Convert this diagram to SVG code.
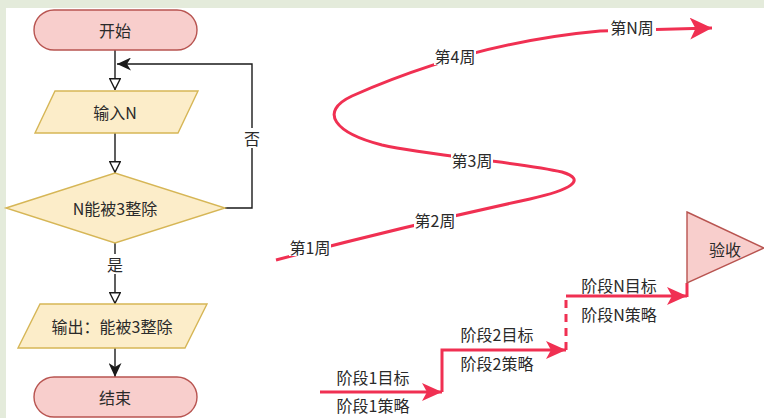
<svg xmlns="http://www.w3.org/2000/svg" width="764" height="418" viewBox="0 0 764 418">
<style>
text{font-family:"Noto Sans CJK SC","Liberation Sans",sans-serif;font-size:16px;fill:#2a2a2a;text-anchor:middle;dominant-baseline:central}
.term{fill:#f8cecc;stroke:#b85450;stroke-width:1.4}
.io{fill:#fcedc9;stroke:#d6b656;stroke-width:1.4}
.ln{fill:none;stroke:#1a1a1a;stroke-width:1.4}
.red{fill:none;stroke:#f03052;stroke-width:3}
.lbl{fill:#fff}
</style>
<defs>
<marker id="open" viewBox="0 0 12 12" refX="12" refY="6" markerWidth="12" markerHeight="12" markerUnits="userSpaceOnUse" orient="auto">
<path d="M0.7,0.7 L11.3,6 L0.7,11.3 Z" fill="#fff" stroke="#1a1a1a" stroke-width="1.4"/>
</marker>
<marker id="fill" viewBox="0 0 14 13" refX="14" refY="6.5" markerWidth="14" markerHeight="13" markerUnits="userSpaceOnUse" orient="auto">
<path d="M0,0 L14,6.5 L0,13 L4,6.5 Z" fill="#1a1a1a"/>
</marker>
<marker id="redA" viewBox="0 0 20 20" refX="20" refY="10" markerWidth="22" markerHeight="22" markerUnits="userSpaceOnUse" orient="auto">
<path d="M0,0 L20,10 L0,20 L5,10 Z" fill="#f03052"/>
</marker>
<marker id="redB" viewBox="0 0 20 18" refX="20" refY="9" markerWidth="20" markerHeight="18" markerUnits="userSpaceOnUse" orient="auto">
<path d="M0,0 L20,9 L0,18 L5,9 Z" fill="#f03052"/>
</marker>
</defs>
<rect x="0" y="0" width="764" height="418" fill="#e4ebdb"/>
<rect x="6" y="8" width="758" height="410" fill="#fff"/>

<g id="connectors">
<path class="ln" d="M115,50 V90" marker-end="url(#open)"/>
<path class="ln" d="M115,133 V173" marker-end="url(#open)"/>
<path class="ln" d="M225,208 H252 V64 H117" marker-end="url(#fill)"/>
<rect class="lbl" x="244" y="128" width="16" height="20"/>
<text x="252" y="138">否</text>
<path class="ln" d="M115,243 V304" marker-end="url(#open)"/>
<rect class="lbl" x="107" y="254" width="16" height="20"/>
<text x="115" y="264">是</text>
<path class="ln" d="M115,348 V377" marker-end="url(#fill)"/>

<path class="red" d="M276,260 C360,238 470,212 530,199 C570,190 588,180 562,172 C520,162 430,156 382,145 C335,133 318,112 352,96 C420,66 500,40 600,31 L712,28" marker-end="url(#redA)"/>
<rect class="lbl" x="289" y="238" width="42" height="18"/>
<text x="310" y="247">第1周</text>
<rect class="lbl" x="414" y="211" width="42" height="18"/>
<text x="435" y="220">第2周</text>
<rect class="lbl" x="451" y="151" width="42" height="18"/>
<text x="472" y="160">第3周</text>
<rect class="lbl" x="434" y="47" width="42" height="18"/>
<text x="455" y="56">第4周</text>
<rect class="lbl" x="608" y="18" width="48" height="18"/>
<text x="632" y="27">第N周</text>

<path class="red" d="M320,392 H442" marker-end="url(#redB)"/>
<path class="red" d="M442,392 V350 H566" marker-end="url(#redB)"/>
<path class="red" d="M566,350 V296" stroke-dasharray="8,6"/>
<path class="red" d="M566,296 H687" marker-end="url(#redB)"/>
<path class="red" d="M687,297 V283"/>
<text x="373" y="377">阶段1目标</text>
<text x="373" y="405">阶段1策略</text>
<text x="497" y="334">阶段2目标</text>
<text x="497" y="363">阶段2策略</text>
<text x="619" y="285">阶段N目标</text>
<text x="619" y="314">阶段N策略</text>
</g>

<g id="start"><rect class="term" x="34" y="10" width="163" height="40" rx="20"/><text x="115" y="30">开始</text></g>
<g id="input"><path class="io" d="M55,91 H198 L178,133 H35 Z"/><text x="115" y="112">输入N</text></g>
<g id="decision"><path class="io" d="M6,208 L115,173 L225,208 L115,243 Z"/><text x="115" y="208">N能被3整除</text></g>
<g id="output"><path class="io" d="M40,304 H207 L185,348 H18 Z"/><text x="112" y="326">输出：能被3整除</text></g>
<g id="end"><rect class="term" x="34" y="377" width="163" height="40" rx="20"/><text x="115" y="397">结束</text></g>
<g id="accept"><path class="term" d="M687,212 L764,248 L687,283 Z"/><text x="725" y="249">验收</text></g>
</svg>
